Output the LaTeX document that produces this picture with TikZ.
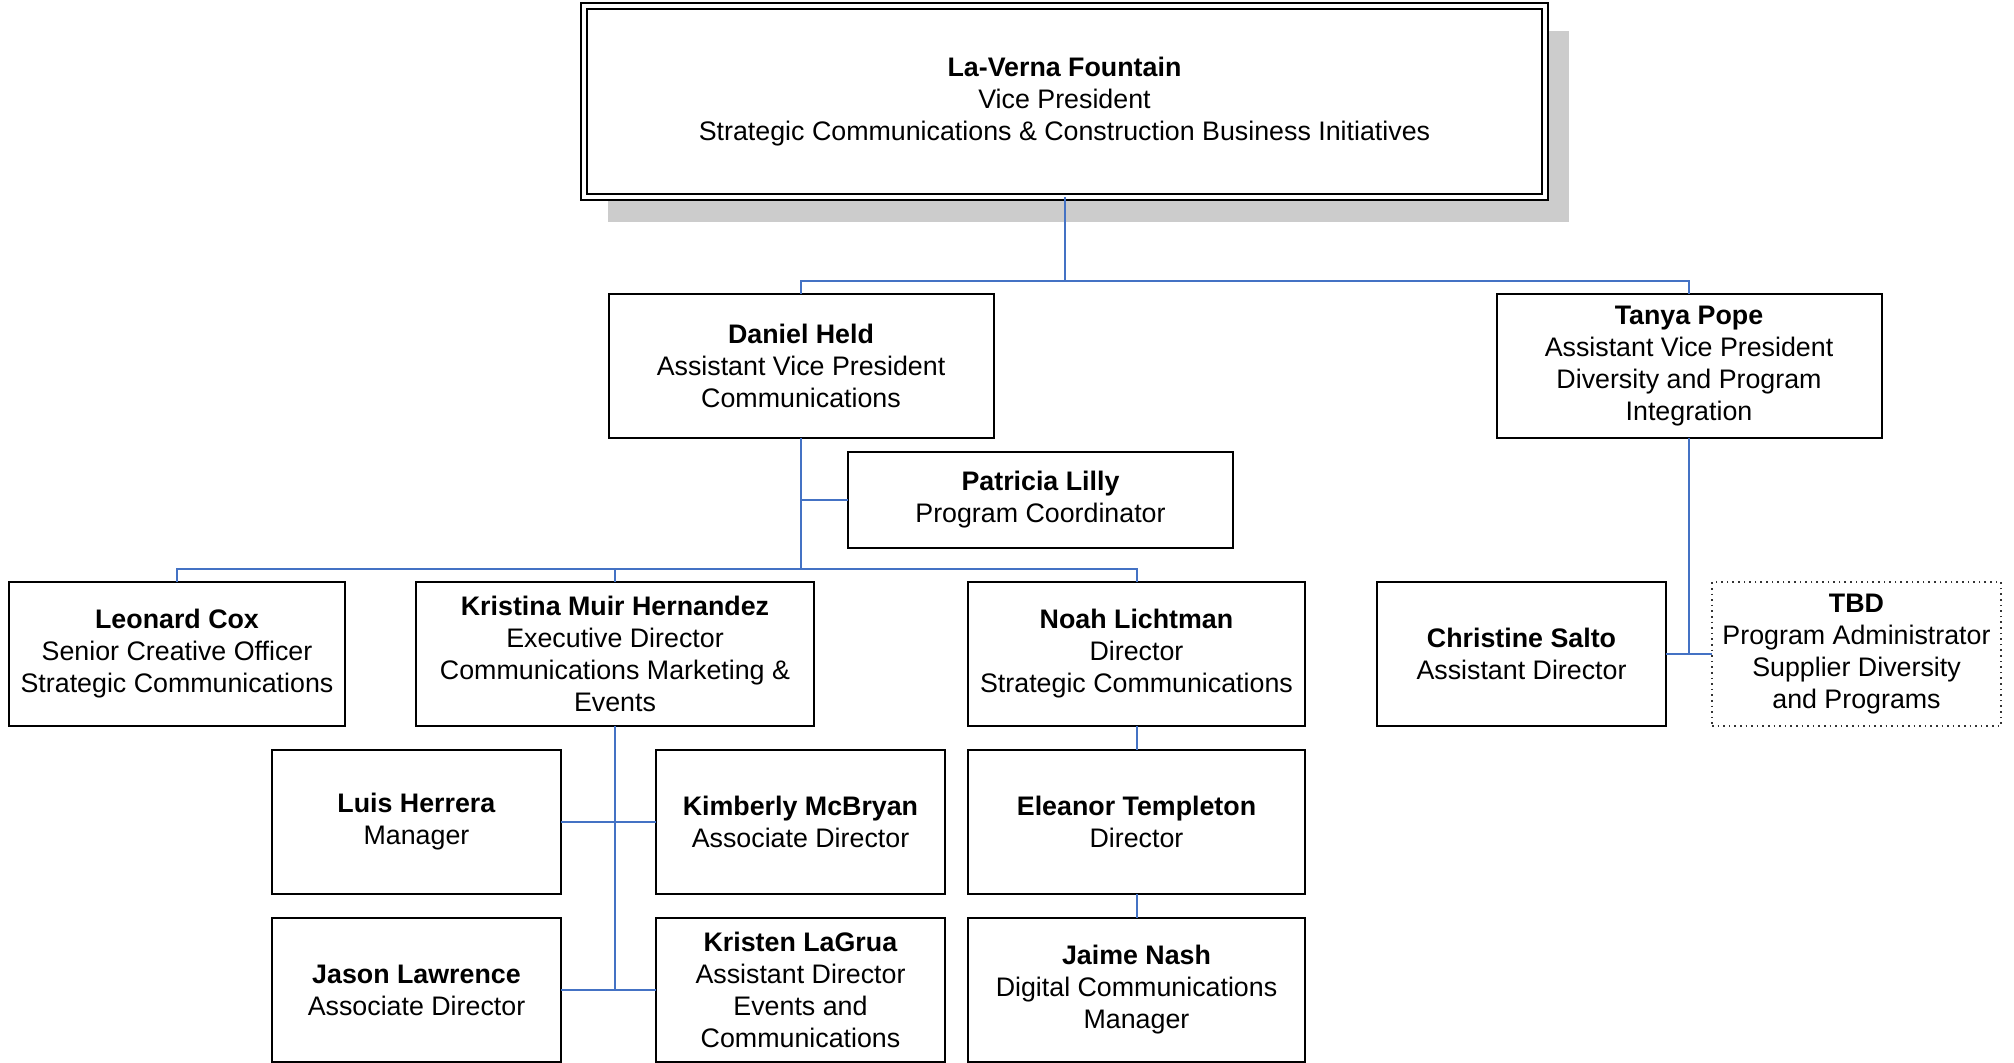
\documentclass[tikz,border=0pt]{standalone}
\usepackage{fontspec}
\setmainfont{Liberation Sans}
\usetikzlibrary{backgrounds}
\definecolor{LinkClr}{RGB}{68,114,196}

\begin{document}
\begin{tikzpicture}[x=0.5pt,y=-0.5pt,
  person/.style={draw,line width=1pt,fill=white,inner sep=0pt,outer sep=0pt,align=center,
    font=\fontsize{13.4}{16}\selectfont},
  headperson/.style={person,double,double distance=1.6pt,minimum width=480.5pt,minimum height=95.5pt},
  openperson/.style={person,draw=black!80,line width=0.8pt,dotted},
  conn/.style={draw=LinkClr,line width=1pt}]
\useasboundingbox (0,0) rectangle (2014,1063);

\node[headperson] (VP) at (1064.5,101.5) {\textbf{La-Verna Fountain}\\Vice President\\Strategic Communications \& Construction Business Initiatives};
\begin{scope}[on background layer]
\fill[black!20] ([shift={(24,25)}]VP.south west) rectangle ([shift={(24,25)}]VP.north east);
\end{scope}

\node[person,minimum width=192.5pt,minimum height=72pt] (DH) at (801,366) {\textbf{Daniel Held}\\Assistant Vice President\\Communications};
\node[person,minimum width=192.5pt,minimum height=72pt] (TP) at (1689,366) {\textbf{Tanya Pope}\\Assistant Vice President\\Diversity and Program\\Integration};
\node[person,minimum width=192.5pt,minimum height=48pt] (PL) at (1040.5,500) {\textbf{Patricia Lilly}\\Program Coordinator};

\node[person,minimum width=168pt,minimum height=72pt] (LC) at (177,654) {\textbf{Leonard Cox}\\Senior Creative Officer\\Strategic Communications};
\node[person,minimum width=199pt,minimum height=72pt] (KM) at (615,654) {\textbf{Kristina Muir Hernandez}\\Executive Director\\Communications Marketing \&\\Events};
\node[person,minimum width=168.5pt,minimum height=72pt] (NL) at (1136.5,654) {\textbf{Noah Lichtman}\\Director\\Strategic Communications};

\node[person,minimum width=144.5pt,minimum height=72pt] (LH) at (416.5,822) {\textbf{Luis Herrera}\\Manager};
\node[person,minimum width=144.5pt,minimum height=72pt] (KB) at (800.5,822) {\textbf{Kimberly McBryan}\\Associate Director};
\node[person,minimum width=144.5pt,minimum height=72pt] (JL) at (416.5,990) {\textbf{Jason Lawrence}\\Associate Director};
\node[person,minimum width=144.5pt,minimum height=72pt] (KL) at (800.5,990) {\textbf{Kristen LaGrua}\\Assistant Director\\Events and\\Communications};

\node[person,minimum width=168.5pt,minimum height=72pt] (ET) at (1136.5,822) {\textbf{Eleanor Templeton}\\Director};
\node[person,minimum width=168.5pt,minimum height=72pt] (JN) at (1136.5,990) {\textbf{Jaime Nash}\\Digital Communications\\Manager};

\node[person,minimum width=144.5pt,minimum height=72pt] (CS) at (1521.5,654) {\textbf{Christine Salto}\\Assistant Director};
\node[openperson,minimum width=144.5pt,minimum height=72pt] (TBD) at (1856.5,654) {\textbf{TBD}\\Program Administrator\\Supplier Diversity\\and Programs};

% links
\coordinate (bus1) at (1064.5,281);
\coordinate (bus2) at (801,569);
\draw[conn] (VP.south) -- (bus1);
\draw[conn] (DH.north) |- (bus1) -| (TP.north);
\draw[conn] (DH.south) -- (bus2);
\draw[conn] (PL.west) -- (PL.west -| DH.south);
\draw[conn] (LC.north) |- (bus2) -| (NL.north);
\draw[conn] (KM.north) -- (KM.north |- bus2);
\draw[conn] (KM.south) -- (KM.south |- JL.east);
\draw[conn] (LH.east) -- (KB.west);
\draw[conn] (JL.east) -- (KL.west);
\draw[conn] (NL.south) -- (ET.north);
\draw[conn] (ET.south) -- (JN.north);
\draw[conn] (TP.south) -- (TP.south |- CS.east);
\draw[conn] (CS.east) -- (TBD.west);

\end{tikzpicture}
\end{document}
